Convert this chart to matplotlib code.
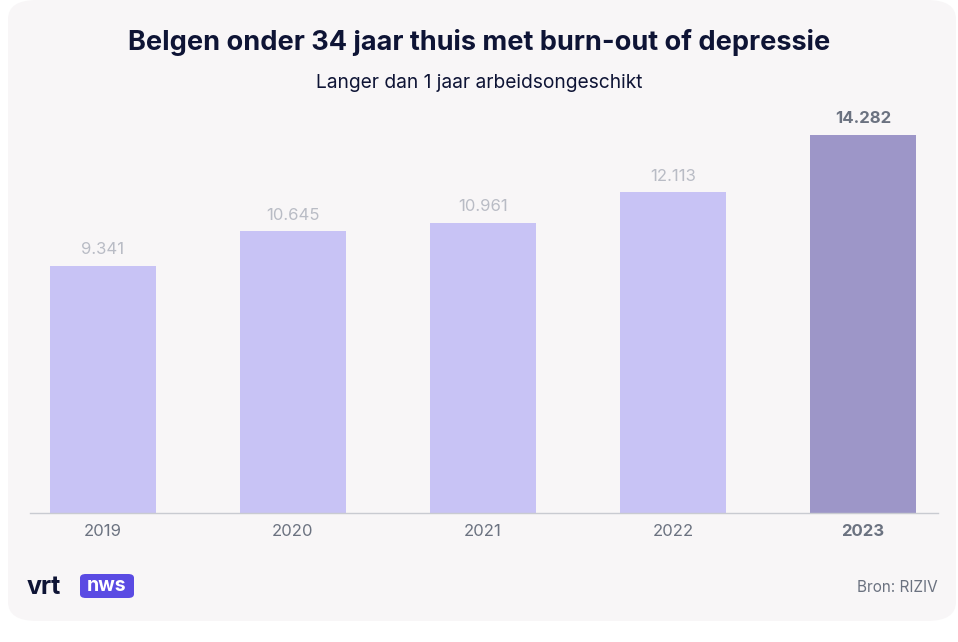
import matplotlib.pyplot as plt
from matplotlib.patches import FancyBboxPatch

years = ['2019', '2020', '2021', '2022', '2023']
values = [9341, 10645, 10961, 12113, 14282]
labels = ['9.341', '10.645', '10.961', '12.113', '14.282']

plt.rcParams['font.family'] = ['Inter', 'DejaVu Sans']

W, H = 958, 642
fig = plt.figure(figsize=(W / 100, H / 100), dpi=100)
fig.patch.set_facecolor('white')

# achtergrondkaart
card = FancyBboxPatch((8 / W, 21 / H), 948 / W, 621 / H,
                      boxstyle='round,pad=0,rounding_size=0.03',
                      transform=fig.transFigure, facecolor='#f8f6f7',
                      edgecolor='none', zorder=-5)
fig.patches.append(card)

ax = fig.add_axes([30 / W, (H - 513) / H, 908 / W, 413 / H])
ax.set_facecolor('none')
ax.set_zorder(2)

colors = ['#c8c3f5'] * 4 + ['#9d96c8']
x = range(len(years))
ax.bar(x, values, width=0.558, color=colors, zorder=2)
ax.set_xlim(-0.384, 4.395)
ax.set_ylim(0, 413 / 378 * 14282)

for i, (v, lab) in enumerate(zip(values, labels)):
    last = i == len(values) - 1
    ax.text(i, v + 330, lab, ha='center', va='bottom', fontsize=12,
            color='#6b7280' if last else '#b9bcc5',
            fontweight='bold' if last else 'normal')

ax.set_xticks(list(x))
ax.set_xticklabels(years, fontsize=12, color='#6b7280')
ax.get_xticklabels()[-1].set_fontweight('bold')
ax.tick_params(axis='x', length=0, pad=8)
ax.set_yticks([])
for s in ['top', 'right', 'left']:
    ax.spines[s].set_visible(False)
ax.spines['bottom'].set_color('#c9cbd1')
ax.spines['bottom'].set_linewidth(1)

fig.text(0.5, 1 - 43 / H, 'Belgen onder 34 jaar thuis met burn-out of depressie',
         ha='center', va='center', fontsize=19.5, fontweight='bold', color='#0e1435')
fig.text(0.5, 1 - 83 / H, 'Langer dan 1 jaar arbeidsongeschikt',
         ha='center', va='center', fontsize=13.8, color='#0e1435')

# logo
fig.text(27 / W, 1 - 587 / H, 'vrt', ha='left', va='center', fontsize=18,
         fontweight='bold', color='#0e1435')
nws = FancyBboxPatch((80 / W, 1 - 598 / H), 54 / W, 24 / H,
                     boxstyle='round,pad=0,rounding_size=0.006',
                     transform=fig.transFigure, facecolor='#5a4be3',
                     edgecolor='none')
fig.patches.append(nws)
fig.text(107 / W, 1 - 586 / H, 'nws', ha='center', va='center', fontsize=14,
         fontweight='bold', color='white')

fig.text(938 / W, 1 - 588 / H, 'Bron: RIZIV', ha='right', va='center',
         fontsize=11, color='#6b7280')

fig.savefig('out.png', dpi=100, facecolor=fig.get_facecolor())
